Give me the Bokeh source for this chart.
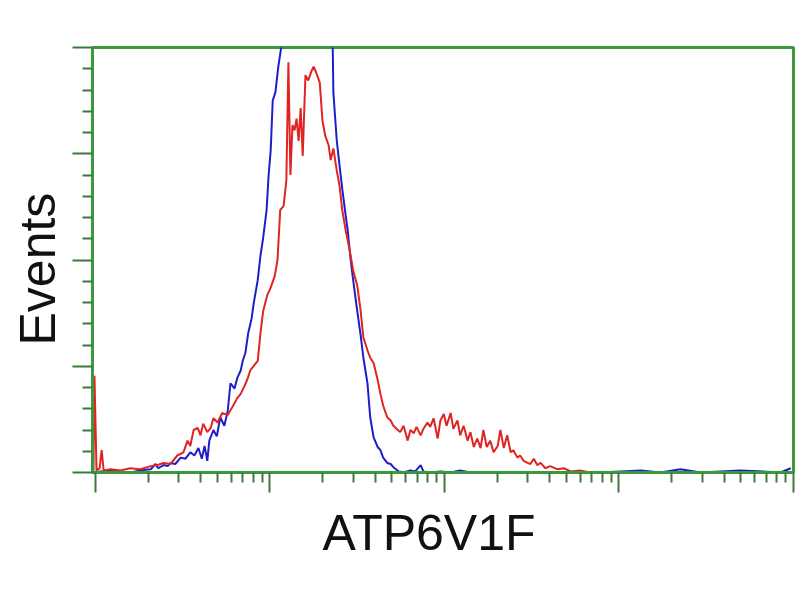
import math
from bokeh.plotting import figure
from bokeh.models import FixedTicker, Range1d, Title
from bokeh.embed import file_html
from bokeh.resources import INLINE

# flow cytometry histogram, x in channels (256 per decade, 4 decades)
red_ch = [-3, -1.5, 1.5, 6, 9, 12, 22, 37, 51, 66, 81, 91, 100, 110, 120, 129, 135, 139,
          144, 150, 154, 158, 164, 169, 173, 179, 186, 194, 202, 208, 213, 219, 223, 227,
          233, 238, 242, 246, 252, 257, 263, 267, 271, 276, 280, 283, 286, 289, 292, 295,
          298, 301, 304, 308, 312, 317, 320, 324, 329, 333, 337, 342, 345, 349, 354, 358,
          362, 367, 373, 378, 384, 389, 393, 399, 403, 408, 414, 418, 422, 428, 433, 437,
          442, 447, 452, 458, 462, 467, 471, 477, 481, 487, 491, 496, 502, 506, 511, 515,
          521, 525, 531, 535, 540, 546, 550, 555, 560, 565, 569, 574, 579, 584, 590, 594,
          599, 604, 609, 613, 619, 623, 628, 634, 638, 643, 648, 653, 660, 667, 678, 687,
          697, 711, 726, 741]
red_n = [0, 91, 2, 4, 21, 2, 3, 2, 4, 3, 6, 7, 9, 8, 16, 19, 30, 25,
         40, 42, 35, 46, 38, 42, 51, 47, 56, 54, 63, 70, 74, 82, 88, 96,
         101, 105, 131, 152, 167, 174, 185, 200, 247, 251, 275, 386, 280, 327, 322, 333,
         312, 343, 298, 374, 369, 378, 382, 376, 367, 331, 317, 308, 294, 305, 284, 270,
         247, 228, 209, 190, 176, 152, 127, 115, 108, 103, 87, 74, 63, 52, 49, 44,
         41, 38, 44, 30, 40, 37, 43, 35, 41, 47, 43, 51, 32, 49, 55, 44,
         56, 41, 49, 35, 44, 30, 38, 24, 32, 23, 40, 24, 30, 19, 25, 40,
         23, 35, 19, 21, 14, 16, 11, 9, 8, 13, 7, 9, 4, 6, 3, 4,
         1, 2, 0, 0]

blue_ch = [-3, 7, 22, 37, 51, 66, 81, 88, 92, 100, 106, 110, 117, 125, 132, 139, 145, 151,
           156, 160, 164, 167, 173, 178, 183, 189, 194, 198, 204, 208, 213, 216, 220, 224,
           229, 232, 238, 242, 246, 251, 254, 257, 260, 264, 268, 274, 279, 292, 308, 323,
           337, 345, 348, 349, 354, 358, 362, 367, 370, 374, 378, 384, 389, 393, 399, 403,
           408, 414, 418, 422, 428, 433, 437, 445, 452, 462, 469, 477, 481, 491, 506, 521,
           535, 550, 565, 741, 800, 829, 858, 888, 946, 1005, 1020]
blue_n = [0, 1, 2, 1, 0, 2, 3, 8, 4, 7, 6, 9, 8, 14, 13, 19, 16, 23,
          13, 25, 11, 30, 40, 34, 52, 44, 58, 84, 79, 89, 96, 105, 113, 131,
          145, 159, 181, 204, 221, 247, 280, 303, 350, 358, 381, 407, 440, 470, 490, 480,
          450, 415, 402, 357, 312, 289, 267, 242, 228, 202, 181, 152, 129, 108, 84, 52,
          33, 24, 21, 14, 9, 8, 5, 1, 0, 2, 1, 7, 1, 0, 1, 0,
          2, 0, 0, 0, 2, 0, 3, 0, 2, 0, 4]

green = "#3c983c"
tick_green = "#3a7a3a"

p = figure(width=798, height=590, output_backend="svg", toolbar_location=None,
           x_range=Range1d(-4.4, 1024), y_range=Range1d(0, 400),
           min_border_left=92, min_border_right=5, min_border_top=47, min_border_bottom=118)
p.background_fill_color = "white"
p.border_fill_color = "white"
p.grid.visible = False
p.outline_line_color = green
p.outline_line_width = 3

minor_x = [256 * (d + math.log10(k)) for d in range(4) for k in range(2, 10)]
p.xaxis.ticker = FixedTicker(ticks=[0, 256, 512, 768, 1024], minor_ticks=minor_x)
p.yaxis.ticker = FixedTicker(ticks=[0, 100, 200, 300, 400],
                             minor_ticks=[v for v in range(0, 401, 20) if v % 100])

for ax in (p.xaxis[0], p.yaxis[0]):
    ax.axis_line_color = green
    ax.axis_line_width = 3
    ax.major_tick_line_color = tick_green
    ax.minor_tick_line_color = tick_green
    ax.major_tick_line_width = 2
    ax.minor_tick_line_width = 2
    ax.major_tick_out = 20
    ax.major_tick_in = 0
    ax.minor_tick_out = 10
    ax.minor_tick_in = 0
    ax.major_label_text_font_size = "0px"
    ax.major_label_text_color = None
    ax.major_label_standoff = 0

p.line(blue_ch, blue_n, line_color="#1e1ec8", line_width=2)
p.line(red_ch, red_n, line_color="#e02424", line_width=2)

# axis names as titles so they can sit off-centre like the original
p.add_layout(Title(text="ATP6V1F", align="left", offset=230, vertical_align="top",
                   standoff=24, text_font="Liberation Sans", text_font_size="50px",
                   text_font_style="normal", text_color="#111111"), "below")
p.add_layout(Title(text="Events", align="left", offset=127, vertical_align="bottom",
                   standoff=14, text_font="Liberation Sans", text_font_size="50px",
                   text_font_style="normal", text_color="#111111"), "left")

open("out.html", "w").write(file_html(p, INLINE))
